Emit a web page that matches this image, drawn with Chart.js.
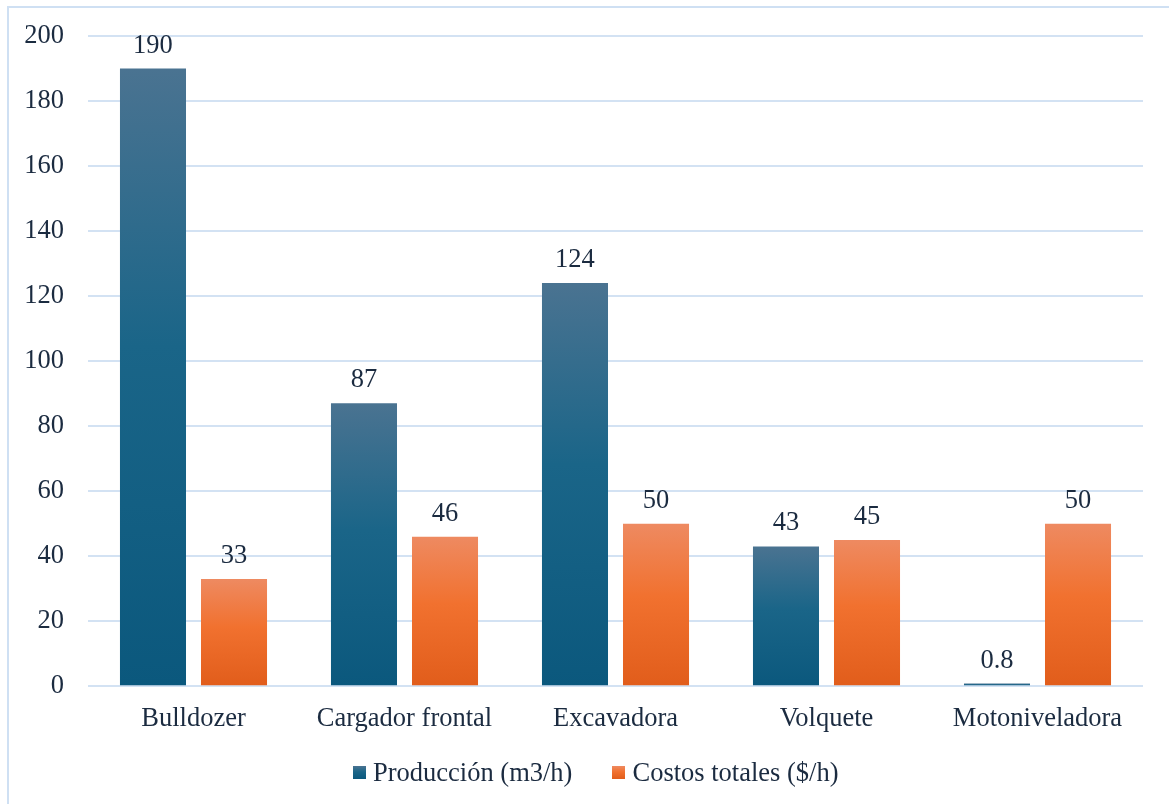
<!DOCTYPE html>
<html lang="es">
<head>
<meta charset="UTF-8" />
<title>Producción y costos</title>
<script src="https://cdn.jsdelivr.net/npm/chart.js"></script>
<style>
    html, body {
        margin: 0;
        padding: 0;
        background: #ffffff;
        overflow: hidden;
    }
    .frame {
        position: absolute;
        left: 7px;
        top: 6px;
        width: 1200px;
        height: 840px;
        border: 2px solid #cfe0f3;
    }
    .chart-box {
        position: absolute;
        left: 0;
        top: 0;
        width: 1169px;
        height: 804px;
    }
    #legend {
        position: absolute;
        left: 353px;
        top: 756px;
        display: flex;
        align-items: center;
        font-family: 'Liberation Serif', 'Times New Roman', serif;
        font-size: 26.5px;
        color: #1b2b40;
        line-height: 32px;
        white-space: nowrap;
    }
    #legend .item {
        display: flex;
        align-items: center;
        margin-right: 40px;
    }
    #legend .swatch {
        width: 13px;
        height: 13px;
        margin-right: 7px;
    }
</style>
</head>
<body>
<div class="frame"></div>
<div class="chart-box"><canvas id="chart"></canvas></div>
<div id="legend"></div>
<script>
    const categories = ["Bulldozer", "Cargador frontal", "Excavadora", "Volquete", "Motoniveladora"];
    const produccion = [190, 87, 124, 43, 0.8];
    const costos = [33, 46, 50, 45, 50];
    const seriesNames = ["Producción (m3/h)", "Costos totales ($/h)"];
    const yTicks = [0, 20, 40, 60, 80, 100, 120, 140, 160, 180, 200];

    const textColor = "#1b2b40";
    const fontFamily = "'Liberation Serif', 'Times New Roman', serif";
    const fontSize = 26.5;
    const blueStops = [[0, "#4a7391"], [0.45, "#1a6588"], [1, "#0b587d"]];
    const orangeStops = [[0, "#ee8a61"], [0.45, "#f1712f"], [1, "#e15d1b"]];

    // gradient per bar, lighter at the top
    function barFill(stops, solid) {
        return function (ctx) {
            if (ctx.type !== "data") return solid;
            const chart = ctx.chart;
            const yScale = chart.scales.y;
            if (!yScale) return solid;
            const top = yScale.getPixelForValue(ctx.raw);
            const bottom = yScale.getPixelForValue(0);
            if (!isFinite(top) || !isFinite(bottom) || bottom - top < 1) return solid;
            const g = chart.ctx.createLinearGradient(0, top, 0, bottom);
            stops.forEach(s => g.addColorStop(s[0], s[1]));
            return g;
        };
    }

    const valueLabels = {
        id: "valueLabels",
        afterDatasetsDraw(chart) {
            const c = chart.ctx;
            c.save();
            c.font = fontSize + "px " + fontFamily;
            c.fillStyle = textColor;
            c.textAlign = "center";
            c.textBaseline = "alphabetic";
            chart.data.datasets.forEach((ds, i) => {
                chart.getDatasetMeta(i).data.forEach((bar, j) => {
                    c.fillText(String(ds.data[j]), bar.x, bar.y - 16);
                });
            });
            c.restore();
        }
    };

    // html legend
    const legendEl = document.getElementById("legend");
    [[seriesNames[0], blueStops], [seriesNames[1], orangeStops]].forEach(([name, stops]) => {
        const item = document.createElement("div");
        item.className = "item";
        const sw = document.createElement("span");
        sw.className = "swatch";
        sw.style.background = "linear-gradient(" + stops.map(s => s[1] + " " + (s[0] * 100) + "%").join(", ") + ")";
        const txt = document.createElement("span");
        txt.textContent = name;
        item.appendChild(sw);
        item.appendChild(txt);
        legendEl.appendChild(item);
    });

    new Chart(document.getElementById("chart"), {
        type: "bar",
        data: {
            labels: categories,
            datasets: [
                {
                    label: seriesNames[0],
                    data: produccion,
                    backgroundColor: barFill(blueStops, "#175f82"),
                    categoryPercentage: 0.768,
                    barPercentage: 0.815
                },
                {
                    label: seriesNames[1],
                    data: costos,
                    backgroundColor: barFill(orangeStops, "#ee6e2c"),
                    categoryPercentage: 0.768,
                    barPercentage: 0.815
                }
            ]
        },
        options: {
            responsive: true,
            maintainAspectRatio: false,
            animation: false,
            layout: {
                padding: { top: 36, right: 26, bottom: 52, left: 0 }
            },
            plugins: {
                tooltip: { enabled: false },
                legend: { display: false }
            },
            scales: {
                x: {
                    grid: { display: false, drawTicks: false },
                    border: { display: false },
                    ticks: {
                        color: textColor,
                        font: { family: fontFamily, size: fontSize },
                        padding: 17,
                        maxRotation: 0
                    }
                },
                y: {
                    min: 0,
                    max: 200,
                    afterBuildTicks(scale) {
                        scale.ticks = yTicks.map(v => ({ value: v }));
                    },
                    afterFit(scale) {
                        scale.width = 88;
                        scale.paddingTop = 0;
                        scale.paddingBottom = 0;
                    },
                    grid: {
                        color: "#d3e2f3",
                        lineWidth: 2,
                        drawTicks: false
                    },
                    border: { display: false },
                    ticks: {
                        color: textColor,
                        font: { family: fontFamily, size: fontSize },
                        padding: 24
                    }
                }
            }
        },
        plugins: [valueLabels]
    });
</script>
</body>
</html>
